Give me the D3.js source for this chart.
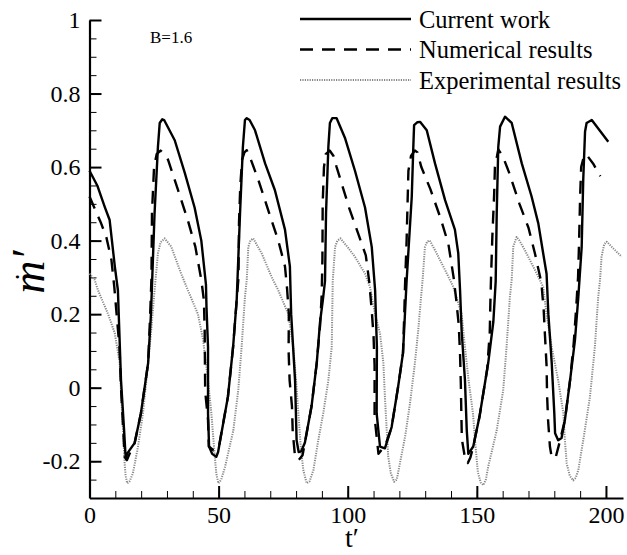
<!DOCTYPE html>
<html>
<head>
<meta charset="utf-8">
<script src="https://cdn.jsdelivr.net/npm/d3@7/dist/d3.min.js"></script>
<style>
  body { margin: 0; background: #fff; }
  svg, svg text { font-family: "Liberation Serif", "Times New Roman", serif; }
</style>
</head>
<body>
<svg id="chart" width="627" height="555"></svg>
<script>
// [t', m'] pairs
var currentWork = [
  [0,0.59],[3,0.55],[6,0.49],[7.8,0.456],[9.8,0.33],[11,0.265],[12.2,0.02],[13.4,-0.116],[13.9,-0.178],[14.2,-0.195],[14.5,-0.18],
  [17.5,-0.15],[19.9,-0.07],[22.7,0.067],[23.8,0.2],[25.2,0.475],[26.5,0.655],[27.2,0.72],[28.2,0.73],[28.9,0.728],[33,0.673],
  [36.9,0.584],[40.7,0.49],[43.3,0.4],[45.1,0.28],[45.3,0.22],[45.9,0.11],[45.9,-0.07],[46.3,-0.16],[47.5,-0.18],[49.1,-0.188],
  [49.8,-0.175],[53.6,-0.025],[55.6,0.11],[57,0.238],[58.3,0.475],[59.4,0.655],[60.2,0.728],[60.9,0.733],[62,0.728],[64.1,0.7],
  [68,0.61],[71.8,0.537],[75.7,0.43],[77.6,0.33],[78.1,0.2],[79.6,0.02],[80.2,-0.143],[81,-0.175],[82,-0.173],[83.4,-0.15],
  [86,-0.05],[88,0.067],[89.3,0.18],[90.4,0.24],[91.2,0.29],[91.6,0.475],[92.5,0.655],[93.1,0.72],[94,0.733],[95.7,0.733],
  [98.9,0.68],[102.8,0.59],[106.7,0.49],[109.3,0.383],[110.6,0.265],[111.3,0.11],[111.2,-0.07],[112.5,-0.16],[114.4,-0.165],
  [117,-0.107],[119.5,0.002],[121.4,0.094],[122.8,0.29],[124.8,0.52],[125.4,0.655],[125.7,0.714],[127,0.722],[128,0.723],
  [130.6,0.7],[133.8,0.61],[137.7,0.51],[141.5,0.43],[142.8,0.366],[143.5,0.265],[144.1,0.156],[145.4,0.02],[146.1,-0.116],
  [146.7,-0.18],[148.6,-0.16],[151,-0.08],[154.4,0.067],[156.4,0.18],[157.3,0.29],[157.7,0.475],[158.3,0.655],[159,0.71],
  [160.9,0.737],[163.5,0.72],[167.4,0.61],[171.2,0.52],[173.8,0.447],[175.7,0.365],[177,0.31],[177.7,0.2],[179,0.067],
  [180,-0.07],[180.3,-0.124],[181.5,-0.143],[182.8,-0.137],[184.1,-0.088],[186.1,0.02],[188,0.13],[189.3,0.247],[190.6,0.383],
  [191.2,0.565],[191.9,0.696],[192.5,0.72],[194.5,0.728],[200.9,0.669]
];
var numericalResults = [
  [0,0.52],[4.5,0.447],[6.5,0.41],[8.5,0.347],[9.6,0.274],[10.5,0.2],[11.6,0.11],[12.3,-0.015],[13,-0.107],[13.6,-0.188],
  [14.5,-0.197],[15.5,-0.18],[17.5,-0.15],[19.9,-0.07],[22.7,0.067],[23.5,0.2],[24,0.3],[24.2,0.475],[25,0.6],[26,0.635],
  [27.5,0.645],[29,0.635],[30.4,0.62],[34.3,0.537],[38.1,0.455],[41,0.383],[43.3,0.293],[44.3,0.238],[44.6,0.156],[44.8,-0.01],
  [45.9,-0.088],[46.2,-0.16],[48,-0.17],[50,-0.165],[53.6,-0.025],[55.6,0.11],[57,0.238],[57.7,0.3],[57.9,0.45],[58.4,0.55],
  [59.1,0.62],[60,0.64],[60.9,0.646],[62.5,0.62],[65.4,0.565],[69.2,0.483],[73.1,0.4],[75.7,0.33],[76.5,0.27],[77.2,0.2],
  [77.1,0.1],[77.5,0.02],[78.4,-0.05],[78.7,-0.12],[79.6,-0.188],[81,-0.197],[82.5,-0.184],[83.4,-0.15],[86,-0.05],[88,0.067],
  [89.3,0.17],[89.9,0.25],[90.2,0.35],[90.3,0.5],[90.8,0.6],[91.5,0.635],[93,0.645],[94.5,0.63],[95.7,0.6],[100.5,0.49],
  [104.5,0.41],[107,0.36],[108.3,0.29],[109.3,0.21],[110,0.14],[110.4,0.06],[110.4,-0.02],[110.4,-0.08],[111.3,-0.14],
  [111.9,-0.18],[113,-0.17],[114.4,-0.16],[117,-0.107],[119.5,0.002],[121.4,0.094],[121.9,0.2],[122.2,0.28],[122.8,0.4],
  [123.2,0.51],[123.5,0.59],[124.5,0.63],[126,0.645],[127,0.64],[128.5,0.6],[132,0.54],[136,0.46],[139,0.39],[141,0.3],
  [142,0.24],[143,0.17],[143.5,0.09],[143.8,0.01],[144,-0.07],[144.2,-0.14],[145.5,-0.195],[146.5,-0.205],[147.5,-0.19],
  [148.6,-0.16],[151,-0.08],[154,0.05],[155,0.15],[155.3,0.25],[155.5,0.3],[156,0.41],[156.7,0.525],[157,0.6],[158.3,0.648],
  [160,0.63],[162.5,0.585],[166.5,0.5],[170,0.435],[172.5,0.365],[175,0.285],[175.9,0.21],[176.4,0.14],[177,0.06],
  [177.2,-0.02],[177.6,-0.09],[178.3,-0.16],[179,-0.19],[180.5,-0.19],[182,-0.15],[184.1,-0.088],[186.1,0.02],[187.5,0.12],
  [188.5,0.22],[189.2,0.3],[189.6,0.4],[190,0.52],[190.4,0.6],[191.3,0.625],[192.3,0.635],[195,0.61],[197.8,0.575]
];
var experimentalResults = [
  [0,0.31],[2,0.293],[3.3,0.265],[7.2,0.2],[9.8,0.148],[11.7,0.067],[12.3,-0.025],[13,-0.116],[13.6,-0.206],[14,-0.24],
  [14.6,-0.26],[15.5,-0.255],[16.8,-0.233],[18.8,-0.16],[20.7,-0.07],[22.7,0.067],[23.9,0.156],[25.2,0.265],[26.5,0.365],
  [27.5,0.395],[29.1,0.406],[31.7,0.383],[35.5,0.31],[38.1,0.265],[42,0.2],[44,0.13],[45.9,0.02],[47.2,-0.07],[48.2,-0.16],
  [49.1,-0.233],[49.9,-0.26],[51,-0.25],[52.5,-0.215],[55.7,-0.116],[57.6,-0.007],[58.9,0.11],[60.2,0.247],[60.9,0.293],
  [61.5,0.383],[62.3,0.4],[63.4,0.406],[66.7,0.365],[70.6,0.3],[73.1,0.265],[77,0.2],[78.9,0.11],[80,0.02],[80.9,-0.07],
  [81.8,-0.16],[82.8,-0.224],[84.1,-0.26],[85.2,-0.255],[86.7,-0.224],[88.6,-0.143],[90.5,-0.07],[92.5,0.02],[93.8,0.11],
  [94.2,0.29],[95.1,0.383],[96,0.4],[97.2,0.406],[100.2,0.38],[102.8,0.356],[106.7,0.31],[108.6,0.274],[110.6,0.2],
  [112.5,0.148],[113.8,0.067],[114.4,-0.025],[115.1,-0.116],[115.7,-0.188],[116.7,-0.233],[118,-0.256],[119,-0.25],
  [120.2,-0.206],[122.2,-0.134],[124.1,-0.043],[126,0.066],[127.3,0.156],[128.4,0.247],[129,0.293],[129.9,0.383],
  [130.8,0.398],[131.8,0.4],[133.8,0.374],[137.7,0.32],[140.9,0.274],[144.1,0.2],[145.4,0.11],[146.8,0.02],[148.5,-0.07],
  [149.5,-0.16],[150.4,-0.23],[151.5,-0.258],[152.5,-0.265],[153.5,-0.25],[154.4,-0.215],[157.7,-0.116],[160.2,-0.007],
  [161.5,0.11],[162.8,0.247],[163.5,0.293],[164.1,0.383],[165.4,0.41],[166.5,0.4],[168.6,0.374],[172.5,0.32],[175.7,0.274],
  [177,0.2],[179,0.11],[181.5,0.02],[183.5,-0.07],[184.1,-0.143],[184.8,-0.206],[186,-0.24],[187.3,-0.252],[188.3,-0.245],
  [189.3,-0.224],[191.2,-0.143],[193.8,-0.025],[195.7,0.11],[197,0.247],[197.7,0.293],[198.3,0.356],[199.3,0.39],
  [200.3,0.397],[203.5,0.374],[206.1,0.356]
];
var legendLabels = ["Current work", "Numerical results", "Experimental results"];
var xTicks = [0, 50, 100, 150, 200];
var yTicks = [-0.2, 0, 0.2, 0.4, 0.6, 0.8, 1];
var annotation = "B=1.6";

var svg = d3.select("#chart");
var plotLeft = 89.5, plotRight = 623, plotTop = 20, plotBottom = 498;

var x = d3.scaleLinear().domain([0, 206.6]).range([plotLeft, plotRight]);
var y = d3.scaleLinear().domain([-0.3, 1]).range([plotBottom, plotTop]);

// minor ticks
svg.append("g")
  .attr("transform", "translate(0," + plotBottom + ")")
  .call(d3.axisBottom(x).tickValues(d3.range(10, 206, 10)).tickSizeInner(-7).tickSizeOuter(0).tickFormat(""))
  .call(function (g) { g.select(".domain").remove(); g.selectAll("line").attr("stroke-width", 1); });
svg.append("g")
  .attr("transform", "translate(" + plotLeft + ",0)")
  .call(d3.axisLeft(y).tickValues(d3.range(-0.25, 1.0, 0.05)).tickSizeInner(-7).tickSizeOuter(0).tickFormat(""))
  .call(function (g) { g.select(".domain").remove(); g.selectAll("line").attr("stroke-width", 1); });

// major axes
var xAxis = svg.append("g")
  .attr("transform", "translate(0," + plotBottom + ")")
  .call(d3.axisBottom(x).tickValues(xTicks).tickSizeInner(-12).tickSizeOuter(0).tickPadding(8).tickFormat(d3.format("d")));
var yAxis = svg.append("g")
  .attr("transform", "translate(" + plotLeft + ",0)")
  .call(d3.axisLeft(y).tickValues(yTicks).tickSizeInner(-12).tickSizeOuter(0).tickPadding(9)
    .tickFormat(function (d) { return String(+d.toFixed(1)); }));
[xAxis, yAxis].forEach(function (g) {
  g.attr("font-family", null).attr("font-size", null);
  g.select(".domain").attr("stroke-width", 2.2);
  g.selectAll(".tick line").attr("stroke-width", 2);
  g.selectAll("text").style("font-family", "'Liberation Serif', serif").style("font-size", "24px").attr("fill", "#000");
});

// series
var line = d3.line().x(function (d) { return x(d[0]); }).y(function (d) { return y(d[1]); });
var styles = [
  { data: currentWork, stroke: "#000", width: 2.4, dash: null },
  { data: numericalResults, stroke: "#000", width: 2.4, dash: "13,9" },
  { data: experimentalResults, stroke: "#888", width: 2, dash: "1.2,1.2" }
];
styles.slice().reverse().forEach(function (s) {
  svg.append("path").datum(s.data)
    .attr("d", line)
    .attr("fill", "none")
    .attr("stroke", s.stroke)
    .attr("stroke-width", s.width)
    .attr("stroke-linejoin", "round")
    .attr("stroke-dasharray", s.dash);
});

// legend
var legend = svg.append("g");
styles.forEach(function (s, i) {
  var ly = 19 + i * 30.5;
  legend.append("line").attr("x1", 300).attr("x2", 411).attr("y1", ly).attr("y2", ly)
    .attr("stroke", s.stroke).attr("stroke-width", s.width).attr("stroke-dasharray", s.dash);
  legend.append("text").attr("x", 419).attr("y", ly + 8.5)
    .style("font-size", "24.5px").text(legendLabels[i]);
});

svg.append("text").attr("x", 150).attr("y", 43).style("font-size", "17px").text(annotation);

// axis titles
svg.append("text").attr("x", 352).attr("y", 547).attr("text-anchor", "middle")
  .style("font-size", "28px").text("t\u2032");
var yTitle = svg.append("g").attr("transform", "translate(44,272) rotate(-90)");
yTitle.append("text").attr("text-anchor", "middle")
  .style("font-size", "46px").style("font-style", "italic").text("m\u2032");
yTitle.append("text").attr("x", -5).attr("y", -8).attr("text-anchor", "middle")
  .style("font-size", "30px").text("\u02D9");
</script>
</body>
</html>
